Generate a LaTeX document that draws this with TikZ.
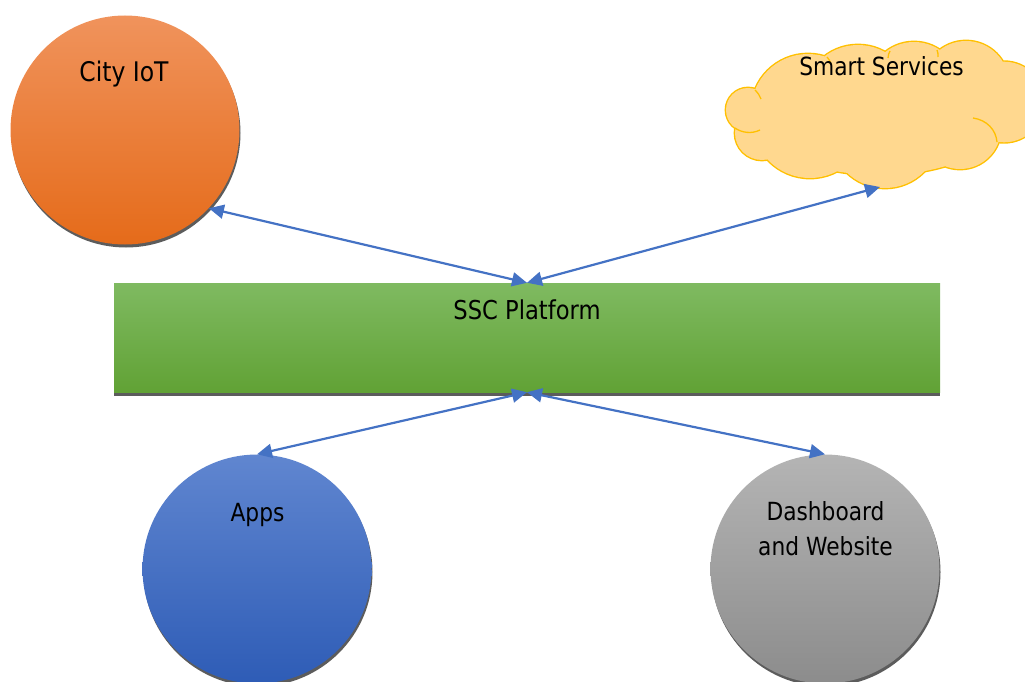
\documentclass[tikz,border=0pt]{standalone}
\usepackage{fontspec}
\setmainfont{DejaVu Sans}[FakeStretch=0.87]
\usetikzlibrary{arrows.meta}

\definecolor{iottop}{RGB}{240,147,92}
\definecolor{iotmid}{RGB}{243,128,50}
\definecolor{iotbot}{RGB}{229,107,26}
\definecolor{plattop}{RGB}{127,186,97}
\definecolor{platmid}{RGB}{112,174,70}
\definecolor{platbot}{RGB}{97,162,53}
\definecolor{apptop}{RGB}{96,134,208}
\definecolor{appmid}{RGB}{68,114,196}
\definecolor{appbot}{RGB}{46,92,182}
\definecolor{dashtop}{RGB}{180,180,180}
\definecolor{dashmid}{RGB}{164,164,164}
\definecolor{dashbot}{RGB}{140,140,140}
\definecolor{cloudfill}{RGB}{255,216,143}
\definecolor{cloudedge}{RGB}{255,192,0}
\definecolor{linkblue}{RGB}{68,114,196}
\definecolor{shadowgray}{RGB}{92,92,92}

\begin{document}
\begin{tikzpicture}[x=1pt,y=-1pt,
  disc/.style={circle, minimum size=229pt, inner sep=0pt},
  txt/.style={anchor=base, inner sep=0pt, text=black, font=\fontsize{25}{35}\selectfont},
  link/.style={draw=linkblue, line width=2.2pt,
    {Triangle[length=15pt,width=14pt]}-{Triangle[length=15pt,width=14pt]}},
  puffline/.style={draw=cloudedge, line width=1.3pt}]

\useasboundingbox (0,0) rectangle (1025,682);
\clip (0,0) rectangle (1025,682);

% drop shadows
\fill[shadowgray] (126,133) circle[radius=114.5];
\fill[shadowgray] (258,572) circle[radius=114.5];
\fill[shadowgray] (826,572) circle[radius=114.5];
\fill[shadowgray] (114,287) rectangle (940,396);

% the four main shapes
\node[disc, top color=iottop, middle color=iotmid, bottom color=iotbot] (iot) at (125,130) {};
\node[disc, top color=apptop, middle color=appmid, bottom color=appbot] (apps) at (257,569) {};
\node[disc, top color=dashtop, middle color=dashmid, bottom color=dashbot] (dash) at (825,569) {};
\node[rectangle, minimum width=826pt, minimum height=109pt, inner sep=0pt,
      top color=plattop, middle color=platmid, bottom color=platbot] (platform) at (527,337.5) {};

% cloud: outline of every puff, then the filled union on top
\def\puffs{
  (808,111) circle[radius=57]
  (858,100) circle[radius=55]
  (914,88) circle[radius=46]
  (966,84) circle[radius=43]
  (1004,102) circle[radius=40.3]
  (960,128) circle[radius=41]
  (885,133) circle[radius=55]
  (810,120) circle[radius=58]
  (762,133) circle[radius=27]
  (748,110) circle[radius=22]
  (880,120) ellipse[x radius=120, y radius=55]}
\draw[cloudedge, line width=2.8pt] \puffs;
\fill[cloudfill] \puffs;
% inner puff strokes
\draw[puffline] (735,128) .. controls (742,133) and (752,134) .. (760,130);
\draw[puffline] (755,90) .. controls (758,93) and (760,96) .. (761,99);
\draw[puffline] (973,118) .. controls (987,120) and (996,130) .. (997,142);
\draw[puffline] (827,57) .. controls (829,59) and (830,61) .. (831,64);
\draw[puffline] (890,51) .. controls (889,53) and (888,55) .. (888,58);
\draw[puffline] (937,50) .. controls (938,52) and (938,54) .. (938,57);
\coordinate (svcport) at (880,187);

% connectors
\draw[link] (iot.-43) -- (platform.north);
\draw[link] (svcport) -- (platform.north);
\draw[link] (apps.north) -- (platform.south);
\draw[link] (dash.north) -- (platform.south);

% texts
\node[txt, font=\fontsize{27}{35}\selectfont] (iottext) at (124,81.7) {City IoT};
\node[txt] (svctext) at (881.5,75.7) {Smart Services};
\node[txt, font=\fontsize{26}{35}\selectfont] (plattext) at (527,319.3) {SSC Platform};
\node[txt] (apptext) at (257.5,521.7) {Apps};
\node[txt] (dashtext) at (825.5,520.7)
  {\begin{tabular}[t]{@{}c@{}}Dashboard\\and Website\end{tabular}};
\end{tikzpicture}
\end{document}
